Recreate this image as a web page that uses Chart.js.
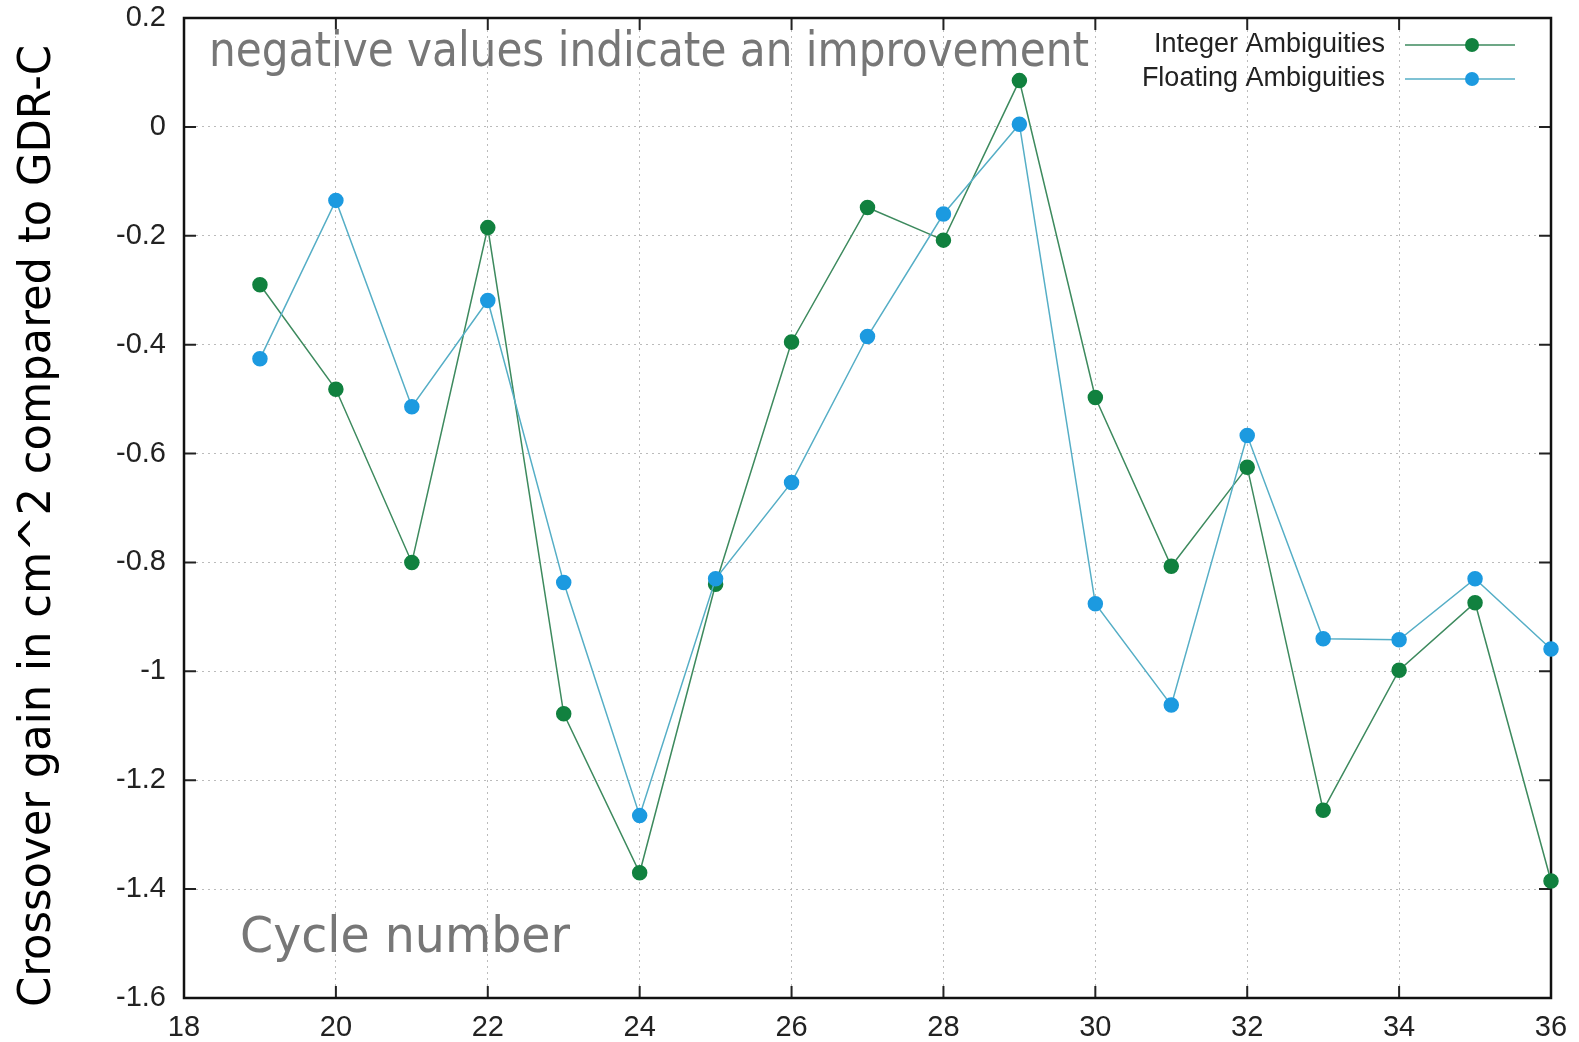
<!DOCTYPE html>
<html>
<head>
<meta charset="utf-8">
<script src="https://cdn.jsdelivr.net/npm/chart.js@4/dist/chart.umd.min.js"></script>
<style>
  body { margin: 0; background: #fff; }
  #wrap { width: 1579px; height: 1042px; }
</style>
</head>
<body>
<div id="wrap"><canvas id="gainChart" width="1579" height="1042"></canvas></div>
<script>
// cycle numbers on the x axis
const cycles = [19, 20, 21, 22, 23, 24, 25, 26, 27, 28, 29, 30, 31, 32, 33, 34, 35, 36];

// crossover gain (cm^2)
const integerAmb = [-0.29, -0.482, -0.80, -0.185, -1.078, -1.37, -0.84, -0.395, -0.148, -0.208,
                    0.085, -0.497, -0.807, -0.625, -1.255, -0.998, -0.874, -1.385];
const floatingAmb = [-0.426, -0.135, -0.514, -0.319, -0.837, -1.265, -0.83, -0.653, -0.385, -0.16,
                     0.005, -0.876, -1.062, -0.567, -0.94, -0.942, -0.83, -0.959];

const xTicks = [18, 20, 22, 24, 26, 28, 30, 32, 34, 36];
const yTicks = [0.2, 0, -0.2, -0.4, -0.6, -0.8, -1, -1.2, -1.4, -1.6];

const seriesNames = ['Integer Ambiguities', 'Floating Ambiguities'];

const toPoints = (vals) => vals.map((v, i) => ({ x: cycles[i], y: v }));

// frame, inward ticks, notes, legend (gnuplot look)
const gnuplotBits = {
  id: 'gnuplotBits',
  beforeDatasetsDraw(chart) {
    const { ctx, chartArea: a, scales } = chart;
    ctx.save();
    // inward tick marks on all four sides
    ctx.strokeStyle = '#222';
    ctx.lineWidth = 2;
    const tl = 12;
    ctx.beginPath();
    xTicks.forEach(t => {
      const px = scales.x.getPixelForValue(t);
      ctx.moveTo(px, a.bottom); ctx.lineTo(px, a.bottom - tl);
      ctx.moveTo(px, a.top); ctx.lineTo(px, a.top + tl);
    });
    yTicks.forEach(t => {
      const py = scales.y.getPixelForValue(t);
      ctx.moveTo(a.left, py); ctx.lineTo(a.left + tl, py);
      ctx.moveTo(a.right, py); ctx.lineTo(a.right - tl, py);
    });
    ctx.stroke();
    // border
    ctx.strokeStyle = '#111';
    ctx.lineWidth = 2.5;
    ctx.strokeRect(a.left, a.top, a.right - a.left, a.bottom - a.top);

    // notes inside the plot
    ctx.fillStyle = '#777';
    ctx.textAlign = 'left';
    ctx.textBaseline = 'alphabetic';
    ctx.font = '48px "Liberation Sans Narrow", "DejaVu Sans Condensed", "Liberation Sans"';
    ctx.fillText('negative values indicate an improvement', 209, 66, 880);
    ctx.font = '50px "DejaVu Sans"';
    ctx.fillText('Cycle number', 240, 952, 330);

    // y axis title
    ctx.fillStyle = '#000';
    ctx.font = '45px "DejaVu Sans"';
    ctx.textAlign = 'center';
    ctx.textBaseline = 'middle';
    ctx.translate(38, 526);
    ctx.rotate(-Math.PI / 2);
    ctx.fillText('Crossover gain in cm^2 compared to GDR-C', 0, 0, 962);
    ctx.restore();
  },
  afterDraw(chart) {
    const { ctx } = chart;
    ctx.save();
    ctx.font = '27px "Liberation Sans"';
    ctx.textAlign = 'right';
    ctx.textBaseline = 'middle';
    const rows = [45, 79];
    chart.data.datasets.forEach((ds, i) => {
      const y = rows[i];
      ctx.fillStyle = '#222';
      ctx.fillText(ds.label, 1385, y);
      ctx.strokeStyle = ds.borderColor;
      ctx.lineWidth = 1.5;
      ctx.beginPath();
      ctx.moveTo(1405, y); ctx.lineTo(1515, y);
      ctx.stroke();
      ctx.fillStyle = ds.pointBackgroundColor;
      ctx.beginPath();
      ctx.arc(1472, y, 7, 0, Math.PI * 2);
      ctx.fill();
    });
    ctx.restore();
  }
};

const ctx = document.getElementById('gainChart').getContext('2d');
new Chart(ctx, {
  type: 'line',
  data: {
    datasets: [{
      label: seriesNames[0],
      data: toPoints(integerAmb),
      borderColor: '#3d8a5e',
      pointBackgroundColor: '#11813f',
      pointBorderColor: '#11813f',
      borderWidth: 1.5,
      pointRadius: 7,
      order: 1,
      clip: false
    },
    {
      label: seriesNames[1],
      data: toPoints(floatingAmb),
      borderColor: '#55aec6',
      pointBackgroundColor: '#1c9ae0',
      pointBorderColor: '#1c9ae0',
      borderWidth: 1.5,
      pointRadius: 7,
      order: 0,
      clip: false
    }]
  },
  options: {
    responsive: false,
    animation: false,
    layout: { padding: { left: 0, right: 28, top: 18, bottom: 0 } },
    scales: {
      x: {
        type: 'linear',
        min: 18,
        max: 36,
        afterFit: (s) => { s.height = 44; s.paddingLeft = 0; s.paddingRight = 0; },
        afterBuildTicks: (s) => { s.ticks = xTicks.map(v => ({ value: v })); },
        ticks: { font: { family: 'Liberation Sans', size: 29 }, color: '#222', padding: 13 },
        grid: { color: '#bbb', lineWidth: 1, drawTicks: false },
        border: { display: false, dash: [2, 4] }
      },
      y: {
        min: -1.6,
        max: 0.2,
        afterFit: (s) => { s.width = 184; s.paddingTop = 0; s.paddingBottom = 0; },
        afterBuildTicks: (s) => { s.ticks = yTicks.map(v => ({ value: v })); },
        ticks: {
          font: { family: 'Liberation Sans', size: 29 },
          color: '#222',
          padding: 18,
          callback: (v) => String(Math.round(v * 10) / 10)
        },
        grid: { color: '#bbb', lineWidth: 1, drawTicks: false },
        border: { display: false, dash: [2, 4] }
      }
    },
    plugins: {
      legend: { display: false },
      tooltip: { enabled: false }
    },
    elements: { line: { tension: 0 } }
  },
  plugins: [gnuplotBits]
});
</script>
</body>
</html>
